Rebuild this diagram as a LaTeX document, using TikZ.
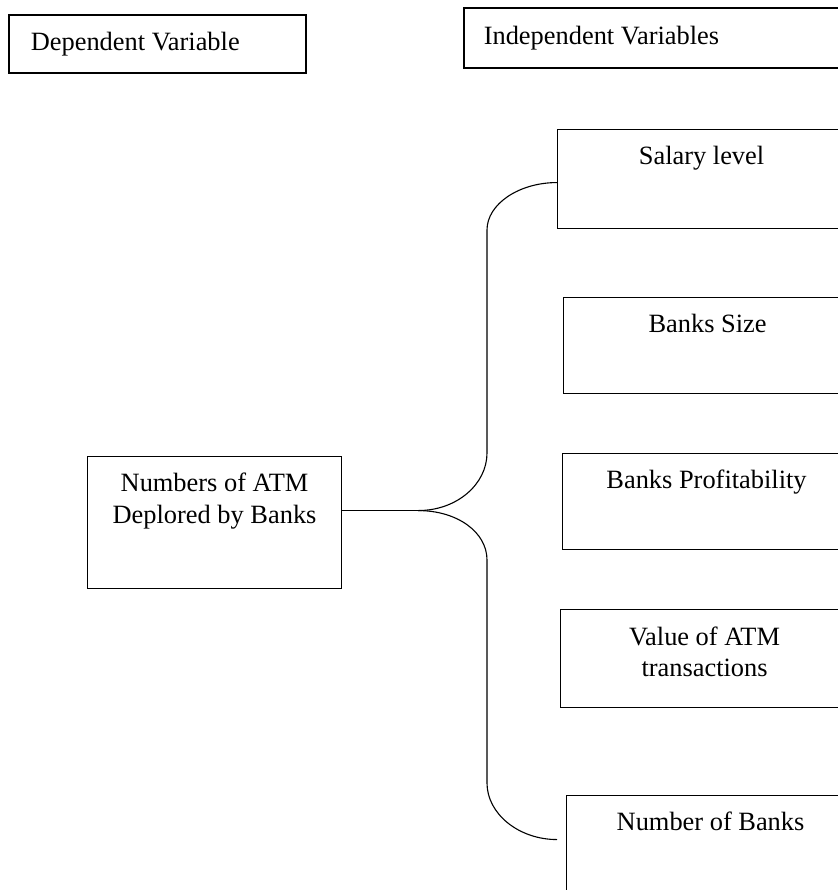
\documentclass[tikz,border=0pt]{standalone}
\usepackage{fontspec}
\setmainfont{Liberation Serif}
\usetikzlibrary{positioning}

\begin{document}
\begin{tikzpicture}[x=.5pt, y=-.5pt,
    headbox/.style={draw, line width=.8pt, anchor=north west,
        inner xsep=11pt, inner ysep=0pt, align=flush left,
        font=\fontsize{13.2}{16}\selectfont},
    box/.style={draw, line width=.55pt, anchor=north west,
        minimum width=144pt},
    lbl/.style={inner sep=0pt, align=center,
        font=\fontsize{13.2}{16}\selectfont},
    link/.style={line width=.55pt}
]
    \fill[white] (0,0) rectangle (838,890);
    \clip (0,0) rectangle (838,890);

    % headings
    \node[headbox, text width=126.5pt, minimum height=29pt] (dep) at (8,14)
        {Dependent Variable};
    \node[headbox, inner xsep=10pt, text width=190pt, minimum height=30pt]
        (indep) at (463,7) {Independent Variables};

    % dependent variable
    \node[box, minimum width=127pt, minimum height=66pt] (atm) at (87,456) {};
    \node[lbl, below=8.5pt of atm.north] (atm-t)
        {Numbers of ATM\\Deplored by Banks};

    % independent variables
    \node[box, minimum height=49.5pt] (salary) at (557,129) {};
    \node[box, minimum height=48pt] (size) at (563,297) {};
    \node[box, minimum height=48pt] (profit) at (562,453) {};
    \node[box, minimum height=49pt] (value) at (560,609) {};
    \node[box, minimum height=60pt] (nob) at (566,795) {};

    \node[lbl, below=8.5pt of salary.north] (salary-t) {Salary level};
    \node[lbl, below=8.5pt of size.north] (size-t) {Banks Size};
    \node[lbl, below=8.5pt of profit.north] (profit-t) {Banks Profitability};
    \node[lbl, below=8.5pt of value.north] (value-t)
        {Value of ATM\\transactions};
    \node[lbl, below=8.5pt of nob.north] (nob-t) {Number of Banks};

    % brace
    \draw[link] ([yshift=6pt]atm.east) -- ++(76,0) coordinate (fork);
    \draw[link] (fork) .. controls +(39,0) and +(0,31) .. (487,453)
        -- (487,230) .. controls +(0,-26) and +(-38,0) .. ([yshift=-1.75pt]salary.west);
    \draw[link] (fork) .. controls +(39,0) and +(0,-28) .. (487,560)
        -- (487,783) .. controls +(0,31) and +(-38,0) .. ([shift={(-4.5pt,8pt)}]nob.west);
\end{tikzpicture}
\end{document}
